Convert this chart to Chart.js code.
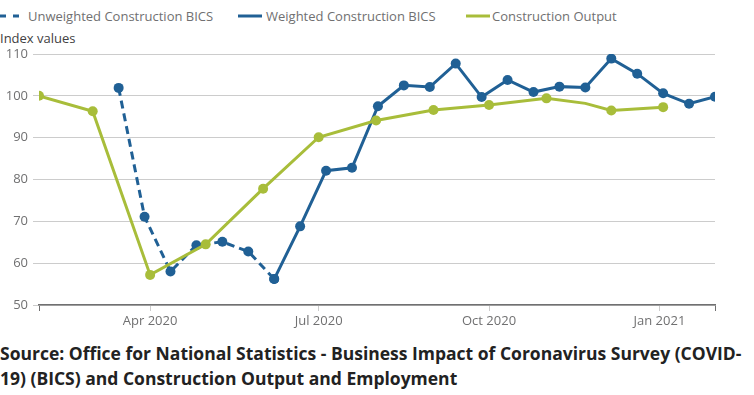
<!DOCTYPE html>
<html lang="en">
<head>
    <meta charset="UTF-8">
    <title>Construction BICS</title>
    <style>
        body {
            margin: 0;
            width: 754px;
            height: 395px;
            position: relative;
            overflow: hidden;
            background: #fff;
            font-family: 'Open Sans', sans-serif;
        }
        .legend span { position: absolute; top: 7px; font-size: 13px; color: #707071; white-space: nowrap; }
        .legend svg { position: absolute; top: 14px; }
        #yTitle { position: absolute; left: 0; top: 29px; font-size: 13px; color: #414042; }
        #wrap { position: absolute; left: 0; top: 0; width: 754px; height: 335px; }
        #source {
            position: absolute; left: 0; top: 341px; width: 760px;
            font-size: 17.5px; font-weight: 700; line-height: 25px; color: #222;
            white-space: nowrap;
        }
    </style>
    <script src="https://cdn.jsdelivr.net/npm/chart.js"></script>
</head>
<body>
    <div class="legend">
        <svg width="22" height="4" style="left:0"><line x1="0" y1="2" x2="22" y2="2" stroke="#206095" stroke-width="3" stroke-dasharray="6,7"/></svg>
        <span style="left:28px">Unweighted Construction BICS</span>
        <svg width="24" height="4" style="left:238px"><line x1="0" y1="2" x2="24" y2="2" stroke="#206095" stroke-width="3"/></svg>
        <span style="left:266px">Weighted Construction BICS</span>
        <svg width="24" height="4" style="left:466px"><line x1="0" y1="2" x2="24" y2="2" stroke="#A8BD3A" stroke-width="3"/></svg>
        <span style="left:492px">Construction Output</span>
    </div>
    <div id="yTitle">Index values</div>
    <div id="wrap"><canvas id="chart"></canvas></div>
    <div id="source">Source: Office for National Statistics - Business Impact of Coronavirus Survey (COVID-<br>19) (BICS) and Construction Output and Employment</div>
    <script>
        // fortnightly BICS survey dates
        const bicsDates = ['2020-03-15', '2020-03-29', '2020-04-12', '2020-04-26', '2020-05-10', '2020-05-24',
            '2020-06-07', '2020-06-21', '2020-07-05', '2020-07-19', '2020-08-02', '2020-08-16',
            '2020-08-30', '2020-09-13', '2020-09-27', '2020-10-11', '2020-10-25', '2020-11-08',
            '2020-11-22', '2020-12-06', '2020-12-20', '2021-01-03', '2021-01-17', '2021-01-31'];
        const unweightedBics = [101.9, 71.1, 58.0, 64.3, 65.1, 62.8, 56.2, null, null, null, null, null,
            null, null, null, null, null, null, null, null, null, null, null, null];
        const weightedBics = [null, null, null, null, null, null, 56.2, 68.8, 82.1, 82.8, 97.5, 102.5,
            102.1, 107.7, 99.7, 103.8, 100.9, 102.2, 102.0, 108.9, 105.3, 100.6, 98.1, 99.8];

        const outputDates = ['2020-02-01', '2020-03-01', '2020-04-01', '2020-05-01', '2020-06-01', '2020-07-01',
            '2020-08-01', '2020-09-01', '2020-10-01', '2020-11-01', '2020-11-22', '2020-12-06', '2021-01-03'];
        const constructionOutput = [100.0, 96.3, 57.2, 64.5, 77.8, 90.1, 94.1, 96.6, 97.8, 99.4, 98.2, 96.5, 97.3];
        const outputNoMarker = ['2020-11-22'];

        const tickDates = ['2020-04-01', '2020-07-01', '2020-10-01', '2021-01-01'];
        const axisStart = '2020-02-01';
        const axisEnd = '2021-01-31';

        const months = ['Jan', 'Feb', 'Mar', 'Apr', 'May', 'Jun', 'Jul', 'Aug', 'Sep', 'Oct', 'Nov', 'Dec'];
        const DAY = 86400000;
        const t0 = Date.parse(axisStart);
        const toDay = s => Math.round((Date.parse(s) - t0) / DAY);
        const xMin = 0, xMax = toDay(axisEnd);

        const pts = (dates, vals) => dates.map((d, i) => ({x: toDay(d), y: vals[i]}));

        const BLUE = '#206095', GREEN = '#A8BD3A';

        new Chart(document.getElementById('chart'), {
            type: 'line',
            data: {
                datasets: [
                    {
                        label: 'Construction Output',
                        data: pts(outputDates, constructionOutput),
                        borderColor: GREEN, backgroundColor: GREEN,
                        borderWidth: 3,
                        pointRadius: ctx => outputNoMarker.includes(outputDates[ctx.dataIndex]) ? 0 : 5,
                        pointBorderWidth: 0
                    },
                    {
                        label: 'Weighted Construction BICS',
                        data: pts(bicsDates, weightedBics),
                        borderColor: BLUE, backgroundColor: BLUE,
                        borderWidth: 3, pointRadius: 5, pointBorderWidth: 0
                    },
                    {
                        label: 'Unweighted Construction BICS',
                        data: pts(bicsDates, unweightedBics),
                        borderColor: BLUE, backgroundColor: BLUE,
                        borderWidth: 3, borderDash: [8, 5], pointRadius: 5, pointBorderWidth: 0
                    }
                ]
            },
            options: {
                responsive: true,
                maintainAspectRatio: false,
                animation: false,
                spanGaps: false,
                layout: { padding: { top: 54, right: 39, left: 0, bottom: 0 } },
                plugins: { legend: { display: false }, tooltip: { enabled: false } },
                scales: {
                    x: {
                        type: 'linear',
                        min: xMin, max: xMax,
                        afterBuildTicks: axis => {
                            axis.ticks = [xMin, ...tickDates.map(toDay), xMax].map(v => ({value: v}));
                        },
                        afterFit: axis => { axis.height = 30; },
                        border: { color: '#707071', width: 1.5 },
                        grid: {
                            drawOnChartArea: false,
                            tickLength: 6,
                            color: ctx => (ctx.tick && (ctx.tick.value === xMin || ctx.tick.value === xMax)) ? '#707071' : '#cccccc'
                        },
                        ticks: {
                            autoSkip: false, maxRotation: 0,
                            color: '#707071', font: { family: 'Open Sans', size: 13 }, padding: 2,
                            callback: v => {
                                if (v === xMin || v === xMax) return '';
                                const d = new Date(t0 + v * DAY);
                                return months[d.getUTCMonth()] + ' ' + d.getUTCFullYear();
                            }
                        }
                    },
                    y: {
                        min: 50, max: 110,
                        afterFit: axis => { axis.width = 39; },
                        border: { display: false },
                        grid: { color: '#cccccc', tickLength: 6 },
                        ticks: { stepSize: 10, color: '#707071', font: { family: 'Open Sans', size: 13 }, padding: 5 }
                    }
                }
            }
        });
    </script>
</body>
</html>
